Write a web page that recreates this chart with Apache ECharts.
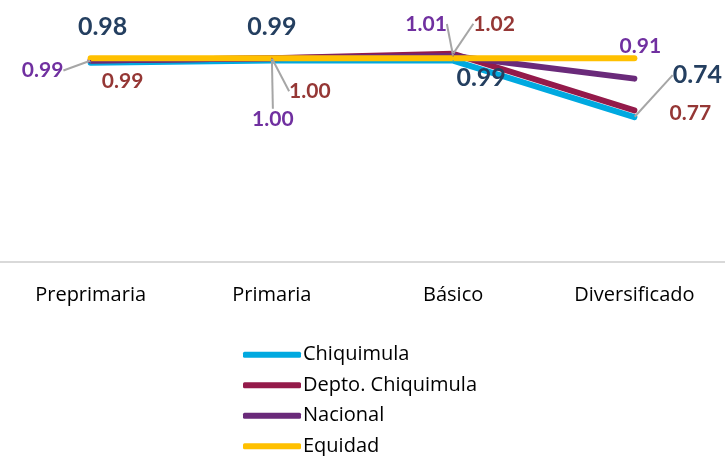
<!DOCTYPE html>
<html>
<head>
<meta charset="utf-8">
<title>Chiquimula</title>
<script src="https://cdn.jsdelivr.net/npm/echarts@6/dist/echarts.min.js"></script>
<style>
  html, body { margin: 0; padding: 0; background: #fff; }
  #chart { width: 725px; height: 456px; }
</style>
</head>
<body>
<div id="chart"></div>
<script>
// datos
const niveles = ['Preprimaria', 'Primaria', 'Básico', 'Diversificado']
const chiquimula = [0.98, 0.99, 0.99, 0.74]
const deptoChiquimula = [0.99, 1.00, 1.02, 0.77]
const nacional = [0.99, 1.00, 1.01, 0.91]
const equidad = [1, 1, 1, 1]

// desplazamiento de cada etiqueta y si lleva linea guia
const offChiq = [[12, -36, false], [0, -34, false], [28, 17, false], [63, -42, true]]
const offDepto = [[32, 21, false], [38, 33, true], [41, -30, true], [56, 3, false]]
const offNac = [[-48, 10, true], [1, 61, true], [-27, -32, true], [6, -32, false]]

const font = 'Lato, "Open Sans", sans-serif'
const fontTexto = '"Open Sans", sans-serif'

const conEtiquetas = (valores, offs) => valores.map((v, i) => ({
  value: v,
  labelLine: { show: offs[i][2] }
}))

const serieLinea = (name, color, valores, offs, labelColor, labelSize) => ({
  name,
  type: 'line',
  data: offs ? conEtiquetas(valores, offs) : valores,
  symbol: 'circle',
  symbolSize: 1,
  showSymbol: true,
  itemStyle: { color },
  lineStyle: { color, width: 6, cap: 'round', join: 'round' },
  label: {
    show: !!offs,
    position: 'inside',
    color: labelColor,
    fontFamily: font,
    fontWeight: 'bold',
    fontSize: labelSize,
    formatter: p => p.value.toFixed(2)
  },
  labelLine: {
    show: false,
    lineStyle: { color: '#a6a6a6', width: 2 }
  },
  labelLayout: offs ? p => ({ dx: offs[p.dataIndex][0], dy: offs[p.dataIndex][1] }) : undefined,
  emphasis: { disabled: true }
})

const chart = echarts.init(document.getElementById('chart'))
chart.setOption({
  animation: false,
  grid: { left: 0, right: 0, top: 13, bottom: 194 },
  xAxis: {
    type: 'category',
    data: niveles,
    boundaryGap: true,
    axisLine: { lineStyle: { color: '#d9d9d9', width: 2 } },
    axisTick: { show: false },
    axisLabel: { color: '#000', fontFamily: fontTexto, fontSize: 20, margin: 23 }
  },
  yAxis: {
    type: 'value',
    min: 0.1,
    max: 1.2,
    show: false,
    splitLine: { show: false }
  },
  legend: {
    orient: 'vertical',
    left: 243,
    top: 343,
    padding: 0,
    height: 125,
    icon: 'roundRect',
    itemWidth: 58,
    itemHeight: 6,
    itemGap: 7,
    textStyle: { color: '#000', fontFamily: fontTexto, fontSize: 20, lineHeight: 23.5, padding: [0, 0, 0, -3] },
    data: ['Chiquimula', 'Depto. Chiquimula', 'Nacional', 'Equidad']
  },
  series: [
    serieLinea('Chiquimula', '#00a9e0', chiquimula, offChiq, '#243f60', 25),
    serieLinea('Depto. Chiquimula', '#941a4a', deptoChiquimula, offDepto, '#953735', 21),
    serieLinea('Nacional', '#6a2a7a', nacional, offNac, '#7030a0', 21),
    serieLinea('Equidad', '#ffc000', equidad, null, '#000', 12)
  ]
})
</script>
</body>
</html>
